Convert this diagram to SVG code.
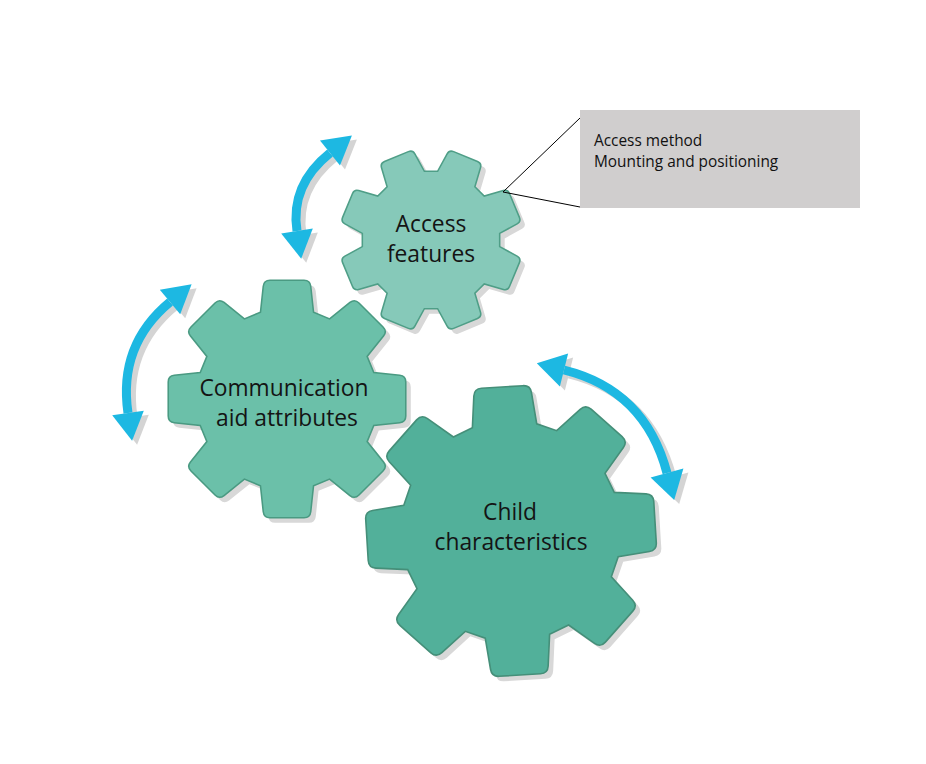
<svg xmlns="http://www.w3.org/2000/svg" xmlns:xlink="http://www.w3.org/1999/xlink" width="926" height="764" viewBox="0 0 926 764">
<style>
.shadow{fill:#d8d8d8;stroke:none}
.g1{fill:#86c9b9;stroke:#4f9e87}
.g2{fill:#6bc0a9;stroke:#4a9a82}
.g3{fill:#52b09a;stroke:#458f79}
.lbl{font-family:"Open Sans","Liberation Sans",sans-serif;font-size:22.8px;fill:#141414;text-anchor:middle}
.note{font-family:"Open Sans","Liberation Sans",sans-serif;font-size:15.4px;fill:#111}
.arr{fill:#1db8e2;stroke:#1db8e2}
.arrs{fill:#d4d4d4;stroke:#d4d4d4}
.lead{stroke:#000;stroke-width:1;fill:none}
</style>
<defs>
<path id="gear" d="M 14.08,-98.16 Q 19.08,-98.16 19.62,-93.19 L 21.93,-71.72 L 35.21,-66.22 L 52.03,-79.77 Q 55.92,-82.90 59.46,-79.36 L 79.36,-59.46 Q 82.90,-55.92 79.77,-52.03 L 66.22,-35.21 L 71.72,-21.93 L 93.19,-19.62 Q 98.16,-19.08 98.16,-14.08 L 98.16,14.08 Q 98.16,19.08 93.19,19.62 L 71.72,21.93 L 66.22,35.21 L 79.77,52.03 Q 82.90,55.92 79.36,59.46 L 59.46,79.36 Q 55.92,82.90 52.03,79.77 L 35.21,66.22 L 21.93,71.72 L 19.62,93.19 Q 19.08,98.16 14.08,98.16 L -14.08,98.16 Q -19.08,98.16 -19.62,93.19 L -21.93,71.72 L -35.21,66.22 L -52.03,79.77 Q -55.92,82.90 -59.46,79.36 L -79.36,59.46 Q -82.90,55.92 -79.77,52.03 L -66.22,35.21 L -71.72,21.93 L -93.19,19.62 Q -98.16,19.08 -98.16,14.08 L -98.16,-14.08 Q -98.16,-19.08 -93.19,-19.62 L -71.72,-21.93 L -66.22,-35.21 L -79.77,-52.03 Q -82.90,-55.92 -79.36,-59.46 L -59.46,-79.36 Q -55.92,-82.90 -52.03,-79.77 L -35.21,-66.22 L -21.93,-71.72 L -19.62,-93.19 Q -19.08,-98.16 -14.08,-98.16 Z"/>
<g id="arrow1">
<path d="M 330,153 Q 290,185 297,231" fill="none" stroke-width="9"/>
<polygon points="351.9,135.5 340,165.5 320,140.5" stroke="none"/>
<polygon points="301.2,258.7 312.8,228.6 281.2,233.4" stroke="none"/>
</g>
<g id="arrow2">
<path d="M 170,302 Q 118,345 128,413" fill="none" stroke-width="9"/>
<polygon points="191.6,284.2 180.2,314.3 159.8,289.7" stroke="none"/>
<polygon points="132.1,440.7 143.8,410.7 112.2,415.3" stroke="none"/>
</g>
<g id="arrow3">
<path d="M 564,370 Q 645,390 667,473" fill="none" stroke-width="9"/>
<polygon points="536.8,363.3 568.1,353.5 559.9,386.5" stroke="none"/>
<polygon points="674.2,500 683.4,468.6 650.6,477.4" stroke="none"/>
</g>
</defs>
<rect width="926" height="764" fill="#ffffff"/>

<g id="gear-access">
<use xlink:href="#gear" class="shadow" transform="translate(436,245) rotate(22.5) scale(0.92)"/>
<use xlink:href="#gear" class="g1" stroke-width="1.7" transform="translate(431,240) rotate(22.5) scale(0.92)"/>
<text class="lbl" x="431" y="232">Access</text>
<text class="lbl" x="431" y="262">features</text>
</g>

<g id="gear-child">
<use xlink:href="#gear" class="shadow" transform="translate(516,536) rotate(-3.5) scale(1.47)"/>
<use xlink:href="#gear" class="g3" stroke-width="1.1" transform="translate(511,531) rotate(-3.5) scale(1.47)"/>
<text class="lbl" x="510" y="520">Child</text>
<text class="lbl" x="511" y="550">characteristics</text>
</g>

<g id="gear-communication">
<use xlink:href="#gear" class="shadow" transform="translate(292,404) scale(1.21)"/>
<use xlink:href="#gear" class="g2" stroke-width="1.3" transform="translate(287,399) scale(1.21)"/>
<text class="lbl" x="284" y="396">Communication</text>
<text class="lbl" x="287" y="426">aid attributes</text>
</g>

<g id="callout">
<rect x="580" y="110" width="280" height="98" fill="#d0cece"/>
<text class="note" x="594" y="146">Access method</text>
<text class="note" x="594" y="167">Mounting and positioning</text>
</g>

<g id="connectors">
<use xlink:href="#arrow1" class="arrs" transform="translate(5,4)"/>
<use xlink:href="#arrow2" class="arrs" transform="translate(5,4)"/>
<use xlink:href="#arrow3" class="arrs" transform="translate(5,4)"/>
<use xlink:href="#arrow1" class="arr"/>
<use xlink:href="#arrow2" class="arr"/>
<use xlink:href="#arrow3" class="arr"/>
<polyline class="lead" points="580,118 503,192 580,207"/>
</g>
</svg>
